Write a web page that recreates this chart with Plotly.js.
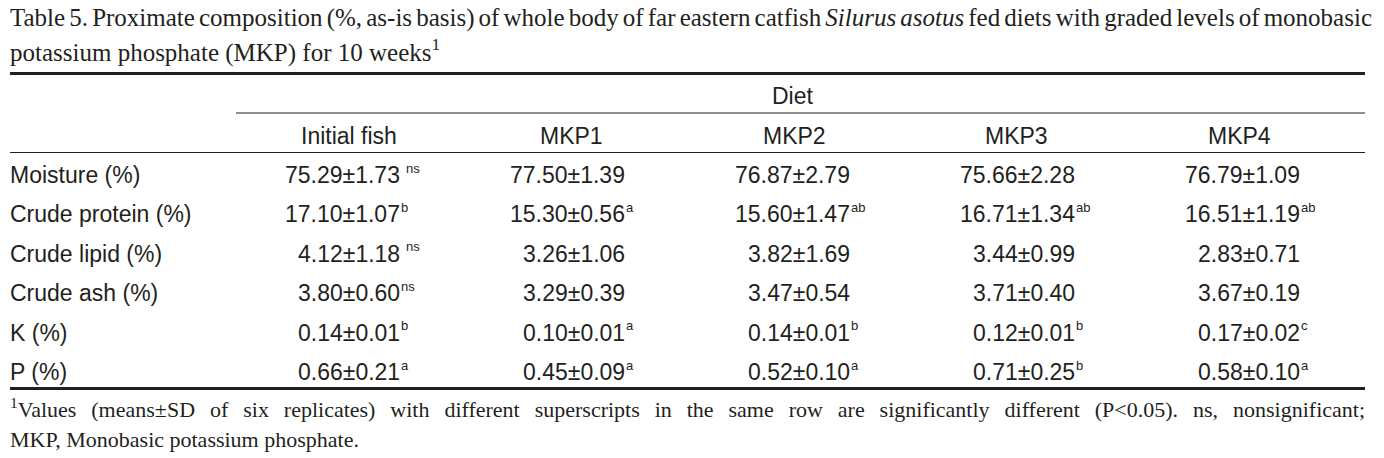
<!DOCTYPE html>
<html><head><meta charset="utf-8">
<script src="https://cdn.plot.ly/plotly-3.0.1.min.js"></script>
<style>html,body{margin:0;padding:0;background:#fff;overflow:hidden}</style>
</head><body><div id="chart" style="width:1384px;height:458px"></div>
<script>
// ---------- data ----------
const titleLine1 = 'Table 5. Proximate composition (%, as-is basis) of whole body of far eastern catfish <i>Silurus asotus</i> fed diets with graded levels of monobasic';
const titleLine2 = 'potassium phosphate (MKP) for 10 weeks<sup>1</sup>';
const groupHeader = 'Diet';
const columns = ['Initial fish', 'MKP1', 'MKP2', 'MKP3', 'MKP4'];
const rowLabels = ['Moisture (%)', 'Crude protein (%)', 'Crude lipid (%)', 'Crude ash (%)', 'K (%)', 'P (%)'];
const initialFish    = ['75.29±1.73', '17.10±1.07', '4.12±1.18', '3.80±0.60', '0.14±0.01', '0.66±0.21'];
const initialFishSup = [' ns', 'b', ' ns', 'ns', 'b', 'a'];
const mkp1    = ['77.50±1.39', '15.30±0.56', '3.26±1.06', '3.29±0.39', '0.10±0.01', '0.45±0.09'];
const mkp1Sup = ['', 'a', '', '', 'a', 'a'];
const mkp2    = ['76.87±2.79', '15.60±1.47', '3.82±1.69', '3.47±0.54', '0.14±0.01', '0.52±0.10'];
const mkp2Sup = ['', 'ab', '', '', 'b', 'a'];
const mkp3    = ['75.66±2.28', '16.71±1.34', '3.44±0.99', '3.71±0.40', '0.12±0.01', '0.71±0.25'];
const mkp3Sup = ['', 'ab', '', '', 'b', 'b'];
const mkp4    = ['76.79±1.09', '16.51±1.19', '2.83±0.71', '3.67±0.19', '0.17±0.02', '0.58±0.10'];
const mkp4Sup = ['', 'ab', '', '', 'c', 'a'];
const footnoteLine1 = '<sup>1</sup>Values (means±SD of six replicates) with different superscripts in the same row are significantly different (P&lt;0.05). ns, nonsignificant;';
const footnoteLine2 = 'MKP, Monobasic potassium phosphate.';

const columnValues = [initialFish, mkp1, mkp2, mkp3, mkp4];
const columnSups = [initialFishSup, mkp1Sup, mkp2Sup, mkp3Sup, mkp4Sup];

// ---------- style ----------
const W = 1384, H = 458;
const ink = '#231f20';
const sans = 'Liberation Sans, Arial, sans-serif';
const serif = 'Liberation Serif, Times New Roman, serif';
const bodyFont = {family: sans, size: 23, color: ink};
const supFont = {family: sans, size: 13, color: ink};
const titleFont = {family: serif, size: 25, color: ink};
const footFont = {family: serif, size: 22, color: ink};
const py = p => 1 - p / H;   // pixel -> paper y
const px = p => p / W;       // pixel -> paper x

const annotations = [];
const base = {showarrow: false, borderpad: 0, borderwidth: 0};

// title
annotations.push(Object.assign({}, base, {xref: 'paper', yref: 'paper', x: px(10), y: py(18), xanchor: 'left', yanchor: 'middle', text: titleLine1, font: titleFont}));
annotations.push(Object.assign({}, base, {xref: 'paper', yref: 'paper', x: px(10), y: py(51), xanchor: 'left', yanchor: 'middle', text: titleLine2, font: titleFont}));
// group header "Diet" centred over the diet columns
annotations.push(Object.assign({}, base, {xref: 'x', yref: 'y', x: (1 + columns.length) / 2, xshift: -57, y: -2, xanchor: 'center', yanchor: 'middle', text: groupHeader, font: bodyFont}));
// column headers
columns.forEach((c, i) => {
  annotations.push(Object.assign({}, base, {xref: 'x', yref: 'y', x: i + 1, xshift: -51 - 2.5 * i, y: -1, xanchor: 'center', yanchor: 'middle', text: c, font: bodyFont}));
});
// row labels
rowLabels.forEach((r, j) => {
  annotations.push(Object.assign({}, base, {xref: 'paper', yref: 'y', x: px(10), y: j, xanchor: 'left', yanchor: 'middle', text: r, font: bodyFont}));
});
// cells: value right-aligned at the column position, superscript letters just after it
columnValues.forEach((vals, i) => {
  vals.forEach((v, j) => {
    annotations.push(Object.assign({}, base, {xref: 'x', yref: 'y', x: i + 1, y: j, xanchor: 'right', yanchor: 'middle', text: v, font: bodyFont}));
    const s = columnSups[i][j];
    if (s.trim()) {
      annotations.push(Object.assign({}, base, {xref: 'x', yref: 'y', x: i + 1, xshift: s.startsWith(' ') ? 6 : 1, y: j, yshift: 7, xanchor: 'left', yanchor: 'middle', text: s.trim(), font: supFont}));
    }
  });
});
// footnote
const footIdx = annotations.length;
annotations.push(Object.assign({}, base, {xref: 'paper', yref: 'paper', x: px(10), y: py(408), xanchor: 'left', yanchor: 'middle', text: footnoteLine1, font: footFont}));
annotations.push(Object.assign({}, base, {xref: 'paper', yref: 'paper', x: px(10), y: py(439), xanchor: 'left', yanchor: 'middle', text: footnoteLine2, font: footFont}));

const line = (x0, x1, y, w) => ({type: 'line', xref: 'paper', yref: 'paper', x0: px(x0), x1: px(x1), y0: py(y), y1: py(y), line: {color: ink, width: w}});
const shapes = [
  line(10, 1365, 73.5, 3),
  line(236, 1365, 113, 1.2),
  line(10, 1365, 152.5, 1.2),
  line(10, 1365, 388.5, 3)
];

// axes: column index i -> right edge of values at 175 + 225*i px; row index j -> 175 + 39.4*j px
const xaxis = {range: [-175 / 225, (W - 175) / 225], visible: false, fixedrange: true};
const yaxis = {range: [(H - 175) / 39.4, -175 / 39.4], visible: false, fixedrange: true};

const layout = {
  width: W, height: H, margin: {l: 0, r: 0, t: 0, b: 0},
  paper_bgcolor: '#ffffff', plot_bgcolor: '#ffffff',
  xaxis, yaxis, annotations, shapes, showlegend: false
};

Plotly.newPlot('chart', [], layout, {staticPlot: true, displayModeBar: false}).then(gd => {
  // justify full-width lines (title line 1 and footnote line 1), keeping their left edge
  const texts = gd.querySelectorAll('.annotation-text');
  const justify = (el, target) => {
    if (!el) return;
    const b0 = el.getBBox();
    const gaps = (el.textContent.match(/ /g) || []).length;
    if (!gaps) return;
    el.style.wordSpacing = ((target - b0.width) / gaps) + 'px';
    const b1 = el.getBBox();
    const x0 = parseFloat(el.getAttribute('x')) || 0;
    el.setAttribute('x', x0 + (b0.x - b1.x));
  };
  justify(texts[0], 1362);
  justify(texts[footIdx], 1355);
});
</script></body></html>
